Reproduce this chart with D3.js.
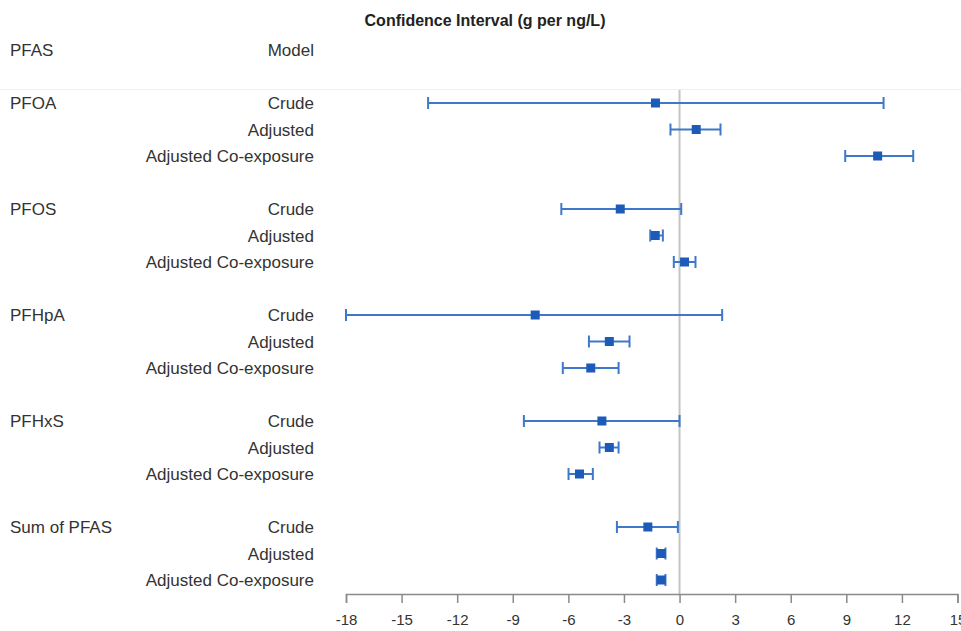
<!DOCTYPE html>
<html>
<head>
<meta charset="utf-8">
<script src="https://cdn.jsdelivr.net/npm/d3@7"></script>
<style>
  html, body { margin: 0; padding: 0; background: #fff; }
  svg { display: block; font-family: "Liberation Sans", Arial, Helvetica, sans-serif; }
</style>
</head>
<body>
<svg id="chart" width="961" height="631"></svg>
<script>
const pfasGroups = ["PFOA", "PFOS", "PFHpA", "PFHxS", "Sum of PFAS"];
const models = ["Crude", "Adjusted", "Adjusted Co-exposure"];
// estimates [group][model]
const estimates = [
  [-1.30, 0.90, 10.69],
  [-3.20, -1.31, 0.27],
  [-7.79, -3.79, -4.79],
  [-4.19, -3.79, -5.40],
  [-1.71, -0.99, -0.99]
];
const lowers = [
  [-13.57, -0.49, 8.94],
  [-6.38, -1.58, -0.31],
  [-18.0, -4.89, -6.30],
  [-8.40, -4.32, -5.99],
  [-3.38, -1.23, -1.23]
];
const uppers = [
  [11.01, 2.21, 12.61],
  [0.09, -0.90, 0.86],
  [2.30, -2.70, -3.29],
  [0.00, -3.29, -4.68],
  [-0.09, -0.76, -0.76]
];
const xTicks = [-18, -15, -12, -9, -6, -3, 0, 3, 6, 9, 12, 15];
const titleText = "Confidence Interval (g per ng/L)";

const svg = d3.select("#chart");
const x = d3.scaleLinear().domain([-18, 15]).range([346, 957.5]);
// row slots: each group takes 3 rows + 1 gap row
const y = d3.scaleLinear().domain([0, 18]).range([103, 580]);

const rows = [];
pfasGroups.forEach((g, gi) => {
  models.forEach((m, mi) => {
    rows.push({ group: g, model: m, slot: gi * 4 + mi, est: estimates[gi][mi], lo: lowers[gi][mi], hi: uppers[gi][mi], first: mi === 0 });
  });
});

// title
svg.append("text").attr("x", 485).attr("y", 26).attr("text-anchor", "middle")
  .attr("font-size", 16).attr("font-weight", "bold").attr("fill", "#222").text(titleText);

// headers
svg.append("text").attr("x", 10).attr("y", 56).attr("font-size", 17).attr("fill", "#333").text("PFAS");
svg.append("text").attr("x", 314).attr("y", 56).attr("text-anchor", "end").attr("font-size", 17).attr("fill", "#333").text("Model");

// separator
svg.append("line").attr("x1", 0).attr("x2", 961).attr("y1", 89.5).attr("y2", 89.5)
  .attr("stroke", "#efefef").attr("stroke-width", 1);

// zero line
svg.append("line").attr("x1", x(0)).attr("x2", x(0)).attr("y1", 90).attr("y2", 594)
  .attr("stroke", "#c4c4c4").attr("stroke-width", 2);

// axis
const axis = d3.axisBottom(x).tickValues(xTicks).tickSize(9).tickSizeOuter(9).tickFormat(d3.format("d"));
const ax = svg.append("g").attr("transform", "translate(0,594)").call(axis);
ax.select(".domain").attr("stroke", "#8a8a8a").attr("stroke-width", 1.5);
ax.selectAll(".tick line").attr("stroke", "#8a8a8a").attr("stroke-width", 1.5);
ax.selectAll(".tick text").attr("font-size", 15).attr("fill", "#333").attr("dy", "1.25em")
  .attr("font-family", "'Liberation Sans', Arial, sans-serif");
ax.selectAll(".tick text").text(d => d < 0 ? "-" + Math.abs(d) : d);

// labels
const lab = svg.append("g");
lab.selectAll("text.grp").data(rows.filter(r => r.first)).join("text")
  .attr("class", "grp").attr("x", 10).attr("y", r => y(r.slot) + 6)
  .attr("font-size", 17).attr("fill", "#333").text(r => r.group);
lab.selectAll("text.mdl").data(rows).join("text")
  .attr("class", "mdl").attr("x", 314).attr("y", r => y(r.slot) + 6).attr("text-anchor", "end")
  .attr("font-size", 17).attr("fill", "#333").text(r => r.model);

// error bars
const lineColor = "#3f78c8";
const markColor = "#1d5bb8";
const eb = svg.append("g");
eb.selectAll("line.ci").data(rows).join("line").attr("class", "ci")
  .attr("x1", r => x(r.lo)).attr("x2", r => x(r.hi)).attr("y1", r => y(r.slot)).attr("y2", r => y(r.slot))
  .attr("stroke", lineColor).attr("stroke-width", 2);
eb.selectAll("line.caplo").data(rows).join("line").attr("class", "caplo")
  .attr("x1", r => x(r.lo)).attr("x2", r => x(r.lo)).attr("y1", r => y(r.slot) - 6).attr("y2", r => y(r.slot) + 6)
  .attr("stroke", lineColor).attr("stroke-width", 2);
eb.selectAll("line.caphi").data(rows).join("line").attr("class", "caphi")
  .attr("x1", r => x(r.hi)).attr("x2", r => x(r.hi)).attr("y1", r => y(r.slot) - 6).attr("y2", r => y(r.slot) + 6)
  .attr("stroke", lineColor).attr("stroke-width", 2);
eb.selectAll("rect.pt").data(rows).join("rect").attr("class", "pt")
  .attr("x", r => x(r.est) - 4.5).attr("y", r => y(r.slot) - 4.5).attr("width", 9).attr("height", 9)
  .attr("fill", markColor);
</script>
</body>
</html>
